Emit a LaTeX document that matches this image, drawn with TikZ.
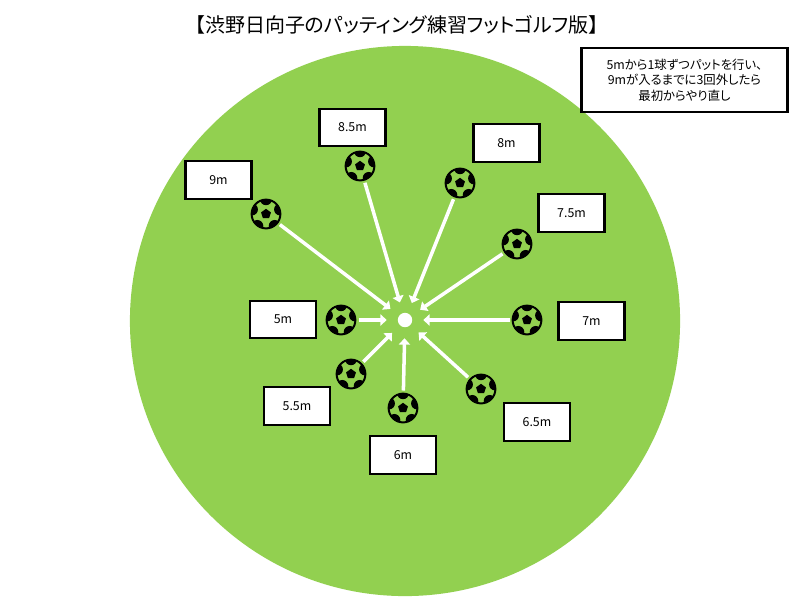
\documentclass[tikz,border=0pt]{standalone}
\usepackage{fontspec}
\setmainfont[RawFeature=+palt]{Noto Sans CJK JP}
\usetikzlibrary{arrows.meta}
\definecolor{cgreen}{RGB}{146,208,80}

\begin{document}
\begin{tikzpicture}[x=0.025cm,y=-0.025cm,font=\fontsize{8.8pt}{11pt}\selectfont,
   dist/.style={rectangle, draw, line width=1.5pt, fill=white, minimum width=1.65cm, minimum height=0.93cm, inner sep=0pt},
   ball/.style={circle, minimum size=0.72cm, inner sep=0pt, fill=cgreen, draw=black, line width=1.4pt,
     path picture={
       \fill[black,shift={(path picture bounding box.center)}] (90:0.13cm) -- (162:0.13cm) -- (234:0.13cm) -- (306:0.13cm) -- (18:0.13cm) -- cycle;
       \foreach \ang in {90,162,234,306,18}
         \fill[black] (path picture bounding box.center) ++(\ang:0.37cm) circle[radius=0.15cm];
     }},
   shot/.style={draw=white, line width=2.5pt, -{Triangle[length=4.5pt,width=8pt]}, shorten <=1.5pt, shorten >=0.27cm}]
  \useasboundingbox (0,0) rectangle (800,600);
  \fill[white] (0,0) rectangle (800,600);
  \node[circle, fill=cgreen, minimum size=13.75cm, inner sep=0pt] (green) at (405,321) {};
  \node[circle, fill=white, minimum size=0.36cm, inner sep=0pt] (hole) at (405,320) {};
  \node[font=\fontsize{14.2pt}{18pt}\selectfont] (title) at (397,25) {【渋野日向子のパッティング練習フットゴルフ版】};
  \node[rectangle, draw, line width=1.5pt, fill=white, minimum width=5.15cm, minimum height=1.58cm, align=center, inner sep=0pt] (note) at (684.5,80)
    {5mから1球ずつパットを行い、\\9mが入るまでに3回外したら\\最初からやり直し};
  % distance labels
  \node[dist] (l9) at (218.5,180) {9m};
  \node[dist] (l85) at (352.5,127.5) {8.5m};
  \node[dist] (l8) at (506.5,143) {8m};
  \node[dist] (l75) at (571.5,213) {7.5m};
  \node[dist] (l7) at (591.5,321) {7m};
  \node[dist] (l65) at (537,422) {6.5m};
  \node[dist] (l6) at (403,455) {6m};
  \node[dist] (l55) at (297,406) {5.5m};
  \node[dist] (l5) at (283,319.5) {5m};
  % balls and putting lines
  \foreach \nm/\x/\y in {b9/266/214,b85/360/166,b8/460/183,b75/517/244,b7/527/320,b65/481/389,b6/403/408,b55/351/374,b5/341/320}{
    \node[ball] (\nm) at (\x,\y) {};
    \draw[shot] (\nm) -- (hole);
  }
\end{tikzpicture}
\end{document}
